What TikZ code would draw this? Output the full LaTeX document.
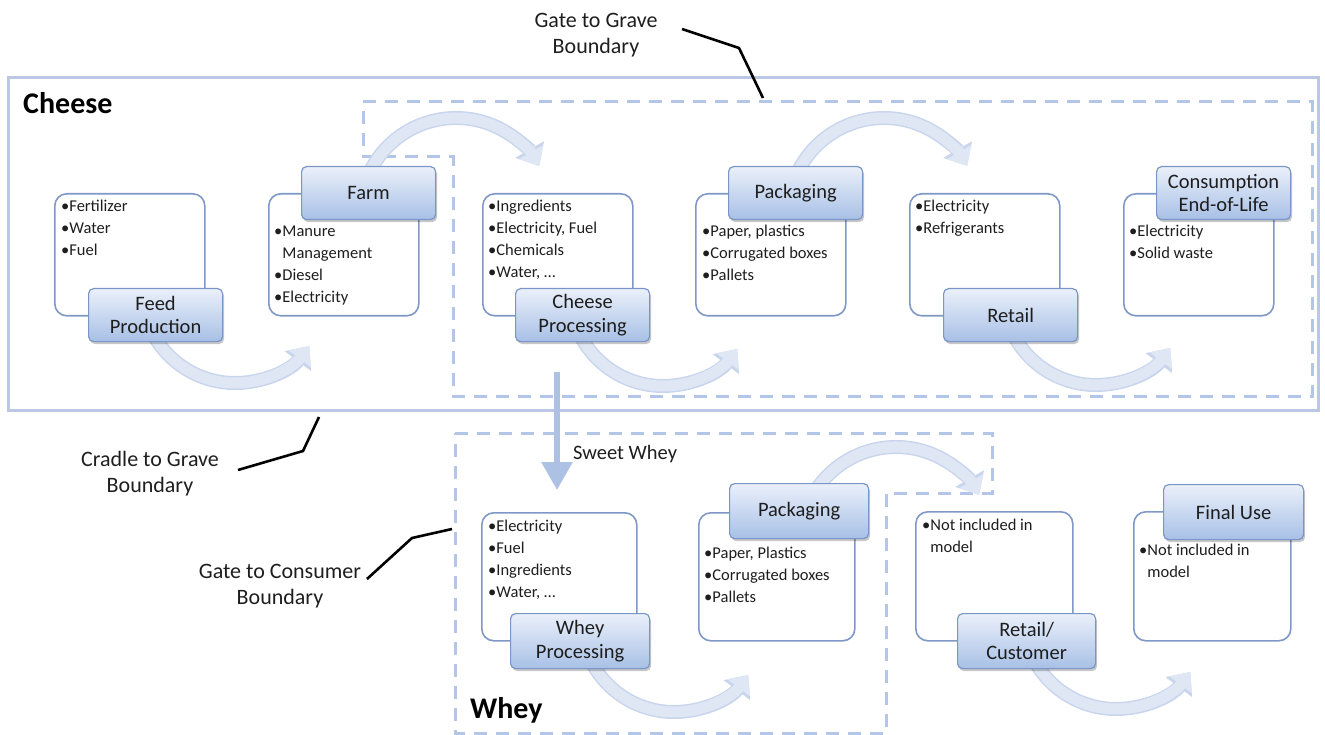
\documentclass[tikz,border=0pt]{standalone}
\usepackage{fontspec}
\setmainfont{Carlito}
\usetikzlibrary{arrows.meta,shadows,calc}
\definecolor{textc}{HTML}{1E1E1E}
\definecolor{outerc}{HTML}{BAC8E3}
\definecolor{dashc}{HTML}{B3C6E7}
\definecolor{inedge}{HTML}{7F98C5}
\definecolor{lbledge}{HTML}{7A96C7}
\definecolor{lbltop}{HTML}{EAF0FA}
\definecolor{lblbot}{HTML}{A8C0E6}
\definecolor{flowc}{HTML}{DFE7F5}
\definecolor{flowedge}{HTML}{C8D5EC}
\definecolor{swc}{HTML}{ADC1E4}
\newcommand\ltab[1]{{\fontsize{16.5}{22}\selectfont\begin{tabular}[t]{@{}l@{}}#1\end{tabular}}}
\newcommand\ctab[1]{{\fontsize{22}{26}\selectfont\begin{tabular}[t]{@{}c@{}}#1\end{tabular}}}
\newcommand\bp{\phantom{•}}
\begin{document}
\begin{tikzpicture}[x=1pt,y=1pt,
  inbox/.style={draw=inedge, line width=1.6pt, rounded corners=12pt, fill=white,
    inner sep=0pt, anchor=north west, minimum width=150pt, minimum height=122pt},
  lblbox/.style={draw=lbledge, line width=1.2pt, rounded corners=5pt,
    top color=lbltop, bottom color=lblbot, anchor=north west, inner sep=0pt,
    align=center, font=\fontsize{20.5}{23.5}\selectfont, text=textc,
    minimum width=134pt, minimum height=53pt,
    drop shadow={shadow xshift=1.5pt, shadow yshift=-2.5pt, fill=black, opacity=0.22}},
  itext/.style={anchor=base west, inner sep=0pt, text=textc},
  ctext/.style={anchor=base, inner sep=0pt, text=textc},
  head/.style={anchor=base west, inner sep=0pt, text=black, font=\fontsize{30}{34}\selectfont\bfseries},
  flowout/.style={line width=14pt, draw=flowedge, -{Triangle[width=32pt,length=19pt]}},
  flow/.style={line width=11pt, draw=flowc, -{Triangle[width=27pt,length=16pt]}},
  swarrow/.style={line width=6pt, draw=swc, -{Triangle[width=30pt,length=28pt]}},
  outerbox/.style={draw=outerc, line width=3pt},
  dashbox/.style={draw=dashc, line width=3pt, dash pattern=on 13pt off 9pt},
  callline/.style={draw=black, line width=2.6pt}]
\useasboundingbox (0,0) rectangle (1325,-735);
% boundaries
\draw[outerbox] (8,-78) rectangle (1318,-410);
\draw[dashbox] (363,-102) -- (1312,-102) -- (1312,-396) -- (453,-396) -- (453,-157) -- (363,-157) -- cycle;
\draw[dashbox] (455,-433) -- (992,-433) -- (992,-493) -- (886,-493) -- (886,-733) -- (455,-733) -- cycle;
% headings
\node[head] (cheeseH) at (23,-114) {Cheese};
\node[head] (wheyH) at (470,-718) {Whey};
% flow arrow coordinates
\coordinate (a1) at ($(235,-290)+(208:93)$);
\coordinate (a2) at ($(456,-214)+(152:96)$);
\coordinate (a3) at ($(663,-293)+(208:93)$);
\coordinate (a4) at ($(884,-214)+(152:96)$);
\coordinate (a5) at ($(1096,-292)+(208:93)$);
\coordinate (a6) at ($(674,-619)+(208:93)$);
\coordinate (a7) at ($(896,-543)+(152:96)$);
\coordinate (a8) at ($(1116,-616)+(208:93)$);
\foreach \s in {flowout,flow}{
  \draw[\s] (a1) arc[start angle=208, end angle=323, radius=93];
  \draw[\s] (a2) arc[start angle=152, end angle=30, radius=96];
  \draw[\s] (a3) arc[start angle=208, end angle=323, radius=93];
  \draw[\s] (a4) arc[start angle=152, end angle=30, radius=96];
  \draw[\s] (a5) arc[start angle=208, end angle=323, radius=93];
  \draw[\s] (a6) arc[start angle=208, end angle=323, radius=93];
  \draw[\s] (a7) arc[start angle=152, end angle=30, radius=96];
  \draw[\s] (a8) arc[start angle=208, end angle=323, radius=93];
}
% sweet whey
\coordinate (swS) at (557,-372);
\coordinate (swE) at (557,-490);
\draw[swarrow] (swS) -- (swE);
\node[itext, font=\fontsize{20.5}{24}\selectfont] (sweet) at (573,-459) {Sweet Whey};
% Cheese row: input boxes
\node[inbox] (feedI) at (54,-193) {};
\node[inbox] (farmI) at (268,-193) {};
\node[inbox] (cprocI) at (482,-193) {};
\node[inbox] (packI) at (695,-193) {};
\node[inbox] (retI) at (909,-193) {};
\node[inbox] (consI) at (1123,-193) {};
% Whey row: input boxes
\node[inbox, minimum width=155pt, minimum height=128pt] (wprocI) at (481,-512) {};
\node[inbox, minimum width=156pt, minimum height=128pt] (wpackI) at (698,-512) {};
\node[inbox, minimum width=157pt, minimum height=129pt] (rcI) at (915,-511) {};
\node[inbox, minimum width=157pt, minimum height=129pt] (fuI) at (1133,-511) {};
% input texts
\node[itext] (feedT) at (61,-212) {\ltab{•Fertilizer\\•Water\\•Fuel}};
\node[itext] (farmT) at (274,-237) {\ltab{•Manure\\\bp Management\\•Diesel\\•Electricity}};
\node[itext] (cprocT) at (488,-212) {\ltab{•Ingredients\\•Electricity, Fuel\\•Chemicals\\•Water, …}};
\node[itext] (packT) at (702,-237) {\ltab{•Paper, plastics\\•Corrugated boxes\\•Pallets}};
\node[itext] (retT) at (915,-212) {\ltab{•Electricity\\•Refrigerants}};
\node[itext] (consT) at (1129,-237) {\ltab{•Electricity\\•Solid waste}};
\node[itext] (wprocT) at (488,-531) {\ltab{•Electricity\\•Fuel\\•Ingredients\\•Water, …}};
\node[itext] (wpackT) at (704,-558) {\ltab{•Paper, Plastics\\•Corrugated boxes\\•Pallets}};
\node[itext] (rcT) at (922,-530) {\ltab{•Not included in\\\bp model}};
\node[itext] (fuT) at (1139,-555) {\ltab{•Not included in\\\bp model}};
% label boxes
\node[lblbox] (feedL) at (88,-288) {Feed\\Production};
\node[lblbox] (farmL) at (301,-166) {Farm};
\node[lblbox] (cprocL) at (515,-288) {Cheese\\Processing};
\node[lblbox] (packL) at (728,-166) {Packaging};
\node[lblbox] (retL) at (943,-288) {Retail};
\node[lblbox] (consL) at (1156,-166) {Consumption\\End-of-Life};
\node[lblbox, minimum width=139pt, minimum height=55pt] (wprocL) at (510,-613) {Whey\\Processing};
\node[lblbox, minimum width=139pt, minimum height=55pt] (wpackL) at (729,-483) {Packaging};
\node[lblbox, minimum width=138pt, minimum height=55pt] (rcL) at (957,-613) {Retail/\\Customer};
\node[lblbox, minimum width=140pt, minimum height=55pt] (fuL) at (1163,-484) {Final Use};
% callouts
\node[ctext] (g2g) at (596,-28) {\ctab{Gate to Grave\\Boundary}};
\node[ctext] (c2g) at (150,-466) {\ctab{Cradle to Grave\\Boundary}};
\node[ctext] (g2c) at (280,-578) {\ctab{Gate to Consumer\\Boundary}};
\coordinate (g2gA) at (682,-29);
\coordinate (g2gB) at (739,-48);
\coordinate (g2gC) at (763,-98);
\draw[callline] (g2gA) -- (g2gB) -- (g2gC);
\coordinate (c2gA) at (238,-470);
\coordinate (c2gB) at (303,-451);
\coordinate (c2gC) at (319,-417);
\draw[callline] (c2gA) -- (c2gB) -- (c2gC);
\coordinate (g2cA) at (367,-579);
\coordinate (g2cB) at (412,-538);
\coordinate (g2cC) at (452,-529);
\draw[callline] (g2cA) -- (g2cB) -- (g2cC);
\end{tikzpicture}
\end{document}
